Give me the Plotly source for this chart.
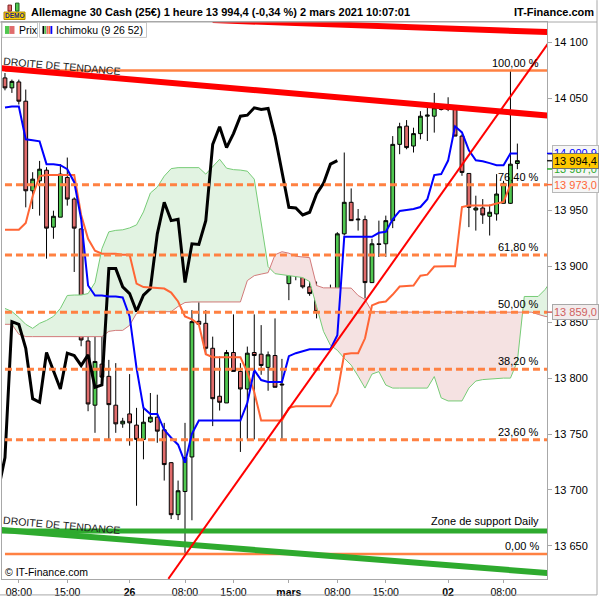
import plotly.graph_objects as go

# hourly candles, thu 25 feb 06:00 -> tue 02 mars 10:00 (weekend removed)
opens = [14068.4, 14059.5, 14064.8, 14047.6, 13967.5, 13976.4, 13985.9, 13935.0, 13943.9, 13979.4,
         13960.1, 13933.4, 13833.2, 13775.8, 13812.5, 13801.6, 13775.8, 13759.1, 13768.0, 13758.0,
         13745.2, 13760.9, 13765.1, 13753.8, 13724.4, 13677.9, 13698.6, 13729.5, 13850.8, 13849.0,
         13826.7, 13783.8, 13777.8, 13822.9, 13806.0, 13790.3, 13822.9, 13821.4, 13809.6, 13820.2,
         13794.7, 13884.5, 13897.6, 13897.9, 13881.6, 13875.6, 13859.9, 13874.7, 13880.1, 13929.0,
         13957.2, 13941.5, 13941.7, 13885.4, 13920.1, 13920.1, 13940.8, 14009.0, 14025.3, 14007.5,
         14018.6, 14034.2, 14034.2, 14041.7, 14040.2, 14040.2, 14016.4, 13983.0, 13950.3, 13952.1,
         13944.7, 13946.8, 13956.3, 13956.3, 13991.9]
highs = [14072.8, 14066.9, 14066.9, 14058.0, 13984.1, 13994.2, 13988.6, 13949.7, 13991.3, 13997.2,
         13961.6, 13934.0, 13862.3, 13839.2, 13844.5, 13816.3, 13813.4, 13764.5, 13803.6, 13773.4,
         13773.4, 13786.7, 13785.2, 13760.0, 13725.0, 13708.4, 13760.0, 13860.8, 13880.7, 13860.8,
         13837.1, 13819.3, 13825.2, 13857.0, 13813.4, 13828.2, 13857.0, 13847.4, 13823.8, 13853.4,
         13817.2, 13906.8, 13906.1, 13903.8, 13886.6, 13886.3, 13875.6, 13883.6, 13930.5, 14001.7,
         13969.6, 13951.2, 13945.3, 13924.6, 13940.8, 13945.3, 14016.4, 14028.3, 14030.7, 14023.9,
         14038.7, 14043.1, 14055.0, 14044.6, 14051.1, 14041.7, 14017.9, 13983.0, 13963.1, 13960.1,
         13955.1, 13982.4, 13976.4, 14075.0, 14009.7]
lows = [14057.3, 14055.0, 14044.6, 13952.7, 13951.2, 13945.3, 13906.8, 13924.6, 13943.9, 13954.2,
        13894.9, 13828.5, 13770.4, 13751.1, 13798.3, 13744.3, 13751.1, 13755.6, 13739.6, 13685.9,
        13727.4, 13760.0, 13742.2, 13708.4, 13674.0, 13673.1, 13642.8, 13672.9, 13848.0, 13820.8,
        13757.1, 13771.0, 13777.8, 13806.0, 13734.0, 13745.2, 13745.2, 13803.0, 13788.7, 13791.8,
        13745.2, 13869.7, 13887.5, 13880.1, 13873.6, 13853.4, 13859.6, 13859.9, 13876.5, 13927.5,
        13940.8, 13931.9, 13871.2, 13885.0, 13908.3, 13908.3, 13934.1, 14000.2, 14004.6, 14001.7,
        14013.5, 14012.0, 14019.5, 14039.3, 14038.7, 14016.4, 13980.9, 13935.0, 13931.9, 13937.9,
        13927.5, 13940.8, 13956.3, 13955.7, 13986.8]
closes = [14059.5, 14065.3, 14047.6, 13967.5, 13977.9, 13986.8, 13934.1, 13944.7, 13982.4, 13960.1,
          13934.1, 13834.1, 13776.9, 13814.9, 13800.9, 13776.3, 13759.1, 13761.5, 13760.0, 13745.2,
          13760.6, 13765.1, 13752.6, 13722.7, 13677.9, 13699.3, 13728.9, 13850.5, 13848.1, 13826.7,
          13781.6, 13778.4, 13822.9, 13806.0, 13790.3, 13822.3, 13820.2, 13811.3, 13820.8, 13791.8,
          13794.0, 13897.9, 13897.9, 13881.6, 13875.6, 13859.6, 13874.1, 13880.1, 13929.0, 13957.2,
          13940.8, 13942.1, 13885.4, 13920.1, 13919.5, 13940.8, 14009.0, 14024.8, 14006.1, 14018.6,
          14034.2, 14035.1, 14041.7, 14040.2, 14041.1, 14016.4, 13983.9, 13952.7, 13952.1, 13945.9,
          13948.3, 13964.6, 13974.1, 13991.3, 13994.4]

# ichimoku lines
tenkan = [14042.0, 14042.8, 14042.8, 14013.5, 14012.6, 14011.7, 13991.3, 13991.3, 13990.4, 13986.8,
          13975.2, 13942.3, 13882.8, 13873.9, 13873.9, 13873.0, 13873.0, 13872.1, 13855.2, 13808.9,
          13773.4, 13768.0, 13768.0, 13753.8, 13746.7, 13740.5, 13724.4, 13750.2, 13762.1, 13762.1,
          13762.1, 13762.1, 13762.1, 13762.1, 13762.1, 13777.8, 13807.2, 13798.3, 13796.5, 13796.5,
          13796.5, 13819.6, 13822.3, 13824.1, 13825.8, 13825.8, 13825.8, 13825.8, 13838.3, 13926.3,
          13926.3, 13926.3, 13926.3, 13926.3, 13929.9, 13930.8, 13942.0, 13949.5, 13950.4, 13951.2,
          13953.0, 13960.0, 13981.5, 13982.4, 13994.5, 14025.1, 14019.7, 14003.7, 13994.8, 13993.9,
          13992.2, 13990.4, 13990.4, 14000.9, 14000.9]
kijun = [13932.6, 13932.6, 13932.6, 13938.8, 13962.8, 13980.6, 13981.5, 13981.5, 13981.5, 13981.5,
         13981.5, 13945.9, 13924.6, 13913.9, 13911.2, 13911.2, 13911.2, 13910.3, 13910.3, 13884.5,
         13881.4, 13881.0, 13880.5, 13880.1, 13876.5, 13868.5, 13855.2, 13852.5, 13848.1, 13821.4,
         13818.7, 13818.7, 13818.7, 13818.7, 13818.7, 13805.4, 13787.6, 13762.1, 13762.1, 13762.1,
         13762.1, 13773.4, 13774.9, 13774.9, 13774.9, 13774.9, 13774.9, 13774.9, 13786.7, 13821.4,
         13822.3, 13822.3, 13835.6, 13865.0, 13867.6, 13868.5, 13874.7, 13881.9, 13882.3, 13882.8,
         13891.6, 13892.5, 13899.7, 13900.1, 13900.1, 13900.1, 13953.0, 13954.4, 13954.4, 13954.4,
         13954.4, 13956.1, 13957.5, 13973.0, 13973.0]
# cloud, already shifted 26 periods ahead (index 0..79)
senkou_a = [13862.3, 13859.6, 13854.3, 13848.1, 13844.5, 13849.0, 13851.6, 13855.2, 13862.3, 13873.9,
            13874.3, 13874.3, 13875.6, 13885.4, 13915.7, 13930.8, 13932.1, 13932.6, 13934.3, 13937.0,
            13948.6, 13965.5, 13970.8, 13980.6, 13987.3, 13988.2, 13988.2, 13988.2, 13988.2, 13982.4,
            13989.5, 13995.7, 13987.7, 13986.4, 13986.0, 13985.0, 13977.9, 13937.9, 13899.7, 13893.4,
            13892.5, 13891.6, 13890.5, 13889.9, 13886.3, 13864.1, 13841.8, 13829.4, 13824.9, 13817.8,
            13811.6, 13801.8, 13791.1, 13803.6, 13805.8, 13793.8, 13791.1, 13791.1, 13791.1, 13791.1,
            13791.1, 13791.1, 13801.4, 13782.3, 13779.6, 13779.6, 13779.6, 13791.1, 13797.4, 13798.7,
            13799.2, 13799.6, 13800.0, 13800.0, 13815.0, 13873.0, 13873.0, 13873.0, 13879.2, 13888.0]
senkou_b = [13848.1, 13848.1, 13839.2, 13837.1, 13837.1, 13837.1, 13837.1, 13837.1, 13837.1, 13837.1,
            13837.1, 13837.1, 13837.1, 13837.1, 13837.1, 13841.8, 13842.7, 13842.7, 13847.2, 13857.9,
            13859.4, 13859.4, 13859.4, 13859.4, 13859.4, 13864.1, 13867.6, 13868.1, 13868.1, 13868.1,
            13868.1, 13868.1, 13868.1, 13868.1, 13868.1, 13887.2, 13891.6, 13893.0, 13894.3, 13910.3,
            13913.0, 13911.7, 13909.0, 13908.3, 13907.7, 13882.8, 13880.7, 13880.7, 13880.7, 13880.7,
            13880.5, 13873.9, 13870.3, 13859.6, 13859.0, 13859.0, 13859.0, 13859.0, 13859.0, 13859.0,
            13859.0, 13859.0, 13859.0, 13859.0, 13859.0, 13859.0, 13859.0, 13859.0, 13859.0, 13859.0,
            13859.0, 13859.0, 13859.0, 13859.0, 13859.0, 13859.0, 13859.0, 13857.0, 13855.2, 13854.3]

# x axis labels (candle index)
tick_pos = [2, 9, 18, 26, 33, 41, 48, 55, 64, 72]
tick_txt = ["08:00", "15:00", "<b>26</b>", "08:00", "15:00", "<b>mars</b>",
            "08:00", "15:00", "<b>02</b>", "08:00"]

# fibonacci retracement
fib_levels = [14075.0, 13973.0, 13910.0, 13859.0, 13808.0, 13745.0, 13642.8]
fib_labels = ["100,00 %", "76,40 %", "61,80 %", "50,00 %", "38,20 %", "23,60 %", "0,00 %"]

# hand drawn lines (index, price)
red_top_x, red_top_y = [-0.5, 79.0], [14077.1, 14034.4]
red_high_x, red_high_y = [30.0, 79.0], [14120.1, 14109.2]
red_up_x, red_up_y = [23.6, 79.0], [13620.6, 14104.2]
green_down_x, green_down_y = [-0.5, 79.0], [13664.2, 13625.4]
support_daily = 13663.3

# last values shown on the price scale
last_tenkan, last_price, next_ssa, last_kijun, next_ssb = 14000.9, 13994.4, 13987.0, 13973.0, 13859.0

GREEN = "#50C850"
RED = "#E06C6C"
BLUE = "#0000FF"
KIJUN = "#FF6535"
FIB = "#FF8142"
SSA = "#77CC77"
SSB = "#D27A7A"
FONT = "Liberation Sans, Arial, sans-serif"

PL, PR, PT, PB = 2, 547, 22, 582  # plot area, pixels


def px_x(px):
    return (px - PL) / (PR - PL)


def px_y(py):
    return (PB - py) / (PB - PT)


def fr(v):
    return f"{v:,.1f}".replace(",", " ").replace(".", ",")


def note(px, py, text, anchor="center", size=11, color="black", **kw):
    fig.add_annotation(x=px_x(px), y=px_y(py), xref="paper", yref="paper", text=text,
                       xanchor=anchor, yanchor="middle", showarrow=False,
                       font=dict(size=size, color=color), **kw)


idx = list(range(len(closes)))
cloud_x = list(range(len(senkou_a)))

fig = go.Figure()

# cloud, split where the two spans cross
pieces = []
cx, ca, cb = [cloud_x[0]], [senkou_a[0]], [senkou_b[0]]
for k in range(1, len(cloud_x)):
    d0 = senkou_a[k - 1] - senkou_b[k - 1]
    d1 = senkou_a[k] - senkou_b[k]
    if d0 * d1 < 0:
        t = d0 / (d0 - d1)
        xc = cloud_x[k - 1] + t * (cloud_x[k] - cloud_x[k - 1])
        yc = senkou_a[k - 1] + t * (senkou_a[k] - senkou_a[k - 1])
        cx.append(xc); ca.append(yc); cb.append(yc)
        pieces.append((cx, ca, cb, d0 > 0))
        cx, ca, cb = [xc], [yc], [yc]
    cx.append(cloud_x[k]); ca.append(senkou_a[k]); cb.append(senkou_b[k])
pieces.append((cx, ca, cb, senkou_a[-1] > senkou_b[-1]))

for px_, pa, pb, bull in pieces:
    fig.add_trace(go.Scatter(x=px_ + px_[::-1], y=pa + pb[::-1], fill="toself",
                             fillcolor="#E2F3E2" if bull else "#F5E2E2",
                             mode="lines", line=dict(width=0), hoverinfo="skip"))
fig.add_trace(go.Scatter(x=cloud_x, y=senkou_a, mode="lines", line=dict(color=SSA, width=1)))
fig.add_trace(go.Scatter(x=cloud_x, y=senkou_b, mode="lines", line=dict(color=SSB, width=1)))

fig.add_trace(go.Candlestick(
    x=idx, open=opens, high=highs, low=lows, close=closes,
    increasing=dict(fillcolor=GREEN, line=dict(color="black", width=1)),
    decreasing=dict(fillcolor=RED, line=dict(color="black", width=1)),
))

# chikou = close drawn 26 periods back
fig.add_trace(go.Scatter(x=[i - 26 for i in idx], y=closes, mode="lines",
                         line=dict(color="black", width=3)))
fig.add_trace(go.Scatter(x=idx, y=kijun, mode="lines", line=dict(color=KIJUN, width=2)))
fig.add_trace(go.Scatter(x=idx, y=tenkan, mode="lines", line=dict(color=BLUE, width=2)))

for lvl, lab in zip(fib_levels, fib_labels):
    solid = lab in ("100,00 %", "0,00 %")
    fig.add_trace(go.Scatter(x=[0, 79], y=[lvl, lvl], mode="lines",
                             line=dict(color=FIB, width=2.5 if solid else 3,
                                       dash="solid" if solid else "7px,4px")))
    fig.add_annotation(x=px_x(541), xref="paper", y=lvl, yref="y", text=lab,
                       xanchor="right", yanchor="bottom", yshift=0, showarrow=False,
                       font=dict(size=11, color="black"))

fig.add_trace(go.Scatter(x=[-0.5, 79], y=[support_daily, support_daily], mode="lines",
                         line=dict(color="#2EAA2E", width=5)))
fig.add_trace(go.Scatter(x=green_down_x, y=green_down_y, mode="lines",
                         line=dict(color="#2EAA2E", width=6)))
fig.add_trace(go.Scatter(x=red_top_x, y=red_top_y, mode="lines", line=dict(color="#FF0000", width=6)))
fig.add_trace(go.Scatter(x=red_high_x, y=red_high_y, mode="lines", line=dict(color="#FF0000", width=6)))
fig.add_trace(go.Scatter(x=red_up_x, y=red_up_y, mode="lines", line=dict(color="#FF0000", width=2)))

fig.add_annotation(x=px_x(541), xref="paper", y=support_daily, yref="y",
                   text="Zone de support Daily", xanchor="right", yanchor="bottom",
                   yshift=2, showarrow=False, font=dict(size=11, color="black"))
note(62, 66.5, "DROITE DE TENDANCE", size=10.5, color="#222222", textangle=5)
note(62, 527.5, "DROITE DE TENDANCE", size=10.5, color="#222222", textangle=5)

# values on the price scale (small coloured tick + tag)
right_tags = [
    (next_ssa, "#2EAA2E", "#F6F6F6", "#B8B8B8"),
    (last_tenkan, BLUE, "#F6F6F6", "#B8B8B8"),
    (last_kijun, KIJUN, "#F6F6F6", "#B8B8B8"),
    (next_ssb, "#D06060", "#F2ECEC", "#A8A8A8"),
    (last_price, "black", "#FFC800", "#707070"),
]
for val, col, bg, bd in right_tags:
    fig.add_shape(type="line", xref="paper", yref="y", x0=1, x1=px_x(552), y0=val, y1=val,
                  line=dict(color=col if col != "black" else "#202020", width=1.5))
    fig.add_annotation(x=1, xref="paper", y=val, yref="y", text=fr(val), xanchor="left",
                       yanchor="middle", xshift=5, showarrow=False,
                       font=dict(size=11, color=col),
                       bgcolor=bg, bordercolor=bd, borderwidth=1, borderpad=1)

# header, legend and credits
note(29, 11.5, "<b>Allemagne 30 Cash (25€) 1 heure 13 994,4 (-0,34 %) 2 mars 2021 10:07:01</b>",
     anchor="left")
note(596, 11.5, "<b>IT-Finance.com</b>", anchor="right")
note(14.5, 15.8, "<b>DEMO</b>", size=6.5, color="#1A2A80")
note(17, 30, "Prix", anchor="left", size=10.5)
note(54, 30, "Ichimoku (9 26 52)", anchor="left", size=10.5)
note(3, 575, "© IT-Finance.com", anchor="left", size=10.5)


def box(x0, y0, x1, y1, fill, line="rgba(0,0,0,0)", w=1):
    fig.add_shape(type="rect", xref="paper", yref="paper", x0=px_x(x0), x1=px_x(x1),
                  y0=px_y(y0), y1=px_y(y1), fillcolor=fill, line=dict(color=line, width=w))


box(2, 22.5, 37.5, 37.5, "white", "#C8C8C8")
box(39.5, 22.5, 146.5, 37.5, "white", "#C8C8C8")
box(5, 26, 9.5, 34, GREEN)
box(9.5, 26, 14.5, 34, RED)
for x0, c in ((42.5, "black"), (44.5, "#50C850"), (46.5, "#E06C6C"), (48.5, KIJUN), (50.5, BLUE)):
    box(x0, 26, x0 + 1.8, 34, c)
box(4, 12, 25, 19.5, "#FFD200", "#B08800")
box(8, 5, 11.5, 11, "#E06C6C", "#802020")
box(15.5, 3, 19, 11, "#50C850", "#206020")

for x0, y0, x1, y1 in ((0, 22, 597, 22), (597, 0, 597, 598), (0, 598, 597, 598)):
    fig.add_shape(type="line", xref="paper", yref="paper", x0=px_x(x0), x1=px_x(x1),
                  y0=px_y(y0), y1=px_y(y1), line=dict(color="#A8A8A8", width=1))

fig.update_layout(
    width=600, height=600,
    margin=dict(l=PL, r=600 - PR, t=PT, b=600 - PB),
    paper_bgcolor="white", plot_bgcolor="white",
    showlegend=False, separators=", ", boxgap=0.22,
    font=dict(family=FONT, size=11, color="black"),
    xaxis=dict(range=[-0.43, 78.28], tickvals=tick_pos, ticktext=tick_txt,
               showgrid=False, zeroline=False, showline=True, mirror=True,
               linecolor="#A8A8A8", ticks="outside", ticklen=3, tickcolor="#A8A8A8",
               tickfont=dict(size=10.5), rangeslider=dict(visible=False)),
    yaxis=dict(range=[13620.4, 14118.4], side="right", dtick=50, tick0=13650,
               tickformat=",d", showgrid=False, zeroline=False, showline=True, mirror=True,
               linecolor="#A8A8A8", ticks="outside", ticklen=4, tickcolor="#A8A8A8",
               automargin=False),
)

fig.write_html("out.html", config={"displayModeBar": False},
               post_script="document.body.style.margin='0px';")
